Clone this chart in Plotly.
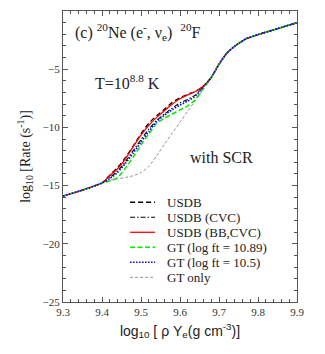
import plotly.graph_objects as go

# density grid, log10(rho Ye)
x_low = [9.30, 9.35, 9.40]
x_mid = [9.42, 9.44, 9.46, 9.48, 9.50, 9.52, 9.54, 9.56, 9.58, 9.60, 9.62, 9.64, 9.66]
x_high = [9.68, 9.70, 9.72, 9.74, 9.77, 9.80, 9.84, 9.90]

# parts shared by every curve
y_low = [-15.9, -15.38, -14.78]
y_high = [-5.72, -4.57, -3.63, -3.03, -2.38, -2.03, -1.62, -1.0]

# log10 rate in the region where the curves split
usdb = [-14.1, -13.45, -12.6, -11.6, -10.55, -9.65, -9.0, -8.45, -7.85, -7.45, -7.15, -6.9, -6.45]
usdb_cvc = [-14.3, -13.75, -12.95, -12.0, -11.05, -10.15, -9.4, -8.85, -8.35, -7.9, -7.6, -7.2, -6.5]
usdb_bb = [-14.15, -13.55, -12.7, -11.66, -10.67, -9.83, -9.14, -8.56, -8.02, -7.54, -7.2, -6.92, -6.45]
gt_1089 = [-14.6, -14.3, -13.5, -12.55, -11.5, -10.57, -9.65, -9.2, -8.85, -8.5, -8.15, -7.6, -6.64]
gt_105 = [-14.4, -13.87, -13.1, -12.2, -11.25, -10.35, -9.51, -8.95, -8.48, -8.08, -7.74, -7.3, -6.5]
gt_only = [-14.55, -14.42, -14.3, -14.15, -13.88, -13.35, -12.45, -11.45, -10.5, -9.55, -8.6, -7.65, -6.75]

labels = ["USDB", "USDB (CVC)", "USDB (BB,CVC)", "GT (log ft = 10.89)", "GT (log ft = 10.5)", "GT only"]

x_all = x_low + x_mid + x_high

# line styles, same order as labels
styles = [
    ("black", "5px,3px", 1.3),
    ("black", "5px,2px,1.5px,2px", 1.1),
    ("#ff0000", "solid", 1.3),
    ("#00ee00", "5px,2.5px", 1.5),
    ("#0000ff", "1.5px,1.5px", 1.6),
    ("#666666", "3px,2px", 0.7),
]
curves = [usdb, usdb_cvc, usdb_bb, gt_1089, gt_105, gt_only]

fig = go.Figure()
# draw back to front
for i in [5, 0, 1, 2, 3, 4]:
    color, dash, width = styles[i]
    fig.add_trace(go.Scatter(
        x=x_all, y=y_low + curves[i] + y_high, mode="lines", name=labels[i],
        line=dict(color=color, dash=dash, width=width, shape="spline", smoothing=0.6),
        showlegend=False, hoverinfo="skip"))

# hand made legend (data coordinates)
row_y = -16.43
for lab, (color, dash, width) in zip(labels, styles):
    fig.add_shape(type="line", x0=9.472, x1=9.536, y0=row_y, y1=row_y, xref="x", yref="y",
                  line=dict(color=color, dash=dash, width=width))
    fig.add_annotation(x=9.562, y=row_y, xref="x", yref="y", text=lab, showarrow=False,
                       xanchor="left", yanchor="middle",
                       font=dict(family="Liberation Serif", size=13, color="#222"))
    row_y -= 1.29

txt_font = dict(family="Liberation Serif", size=16, color="#222")
fig.add_annotation(x=9.325, y=-1.8, xref="x", yref="y", showarrow=False, xanchor="left",
                   text="(c) <sup>20</sup>Ne (e<sup>-</sup>, ν<sub>e</sub>)  <sup>20</sup>F", font=txt_font)
fig.add_annotation(x=9.376, y=-6.1, xref="x", yref="y", showarrow=False, xanchor="left",
                   text="T=10<sup>8.8</sup> K", font=txt_font)
fig.add_annotation(x=9.62, y=-12.55, xref="x", yref="y", showarrow=False, xanchor="left",
                   text="with SCR", font=txt_font)

axis_common = dict(
    showgrid=False, zeroline=False, showline=True, linecolor="#555", linewidth=1,
    mirror="ticks", ticks="inside", ticklen=5, tickcolor="#555",
    tickfont=dict(family="Liberation Serif", size=11, color="#333"),
)
fig.update_xaxes(range=[9.3, 9.9], dtick=0.1, tickformat=".1f",
                 minor=dict(ticks="inside", dtick=0.02, ticklen=3, tickcolor="#555"),
                 title=dict(text="log<sub>10</sub> [ ρ Y<sub>e</sub>(g cm<sup>-3</sup>)]",
                            font=dict(family="Liberation Sans", size=14, color="#222"), standoff=8),
                 **axis_common)
fig.update_yaxes(range=[-25, 0], dtick=5,
                 minor=dict(ticks="inside", dtick=1, ticklen=3, tickcolor="#555"),
                 title=dict(text="log<sub>10</sub> [Rate (s<sup>-1</sup>)]",
                            font=dict(family="Liberation Serif", size=14, color="#222"), standoff=8),
                 **axis_common)
# page body adds an 8px offset, so the figure is 8px smaller than the window
fig.update_layout(
    width=317, height=346,
    margin=dict(l=55, r=28, t=3, b=52),
    plot_bgcolor="white", paper_bgcolor="white",
    showlegend=False,
)
fig.write_html("out.html")
